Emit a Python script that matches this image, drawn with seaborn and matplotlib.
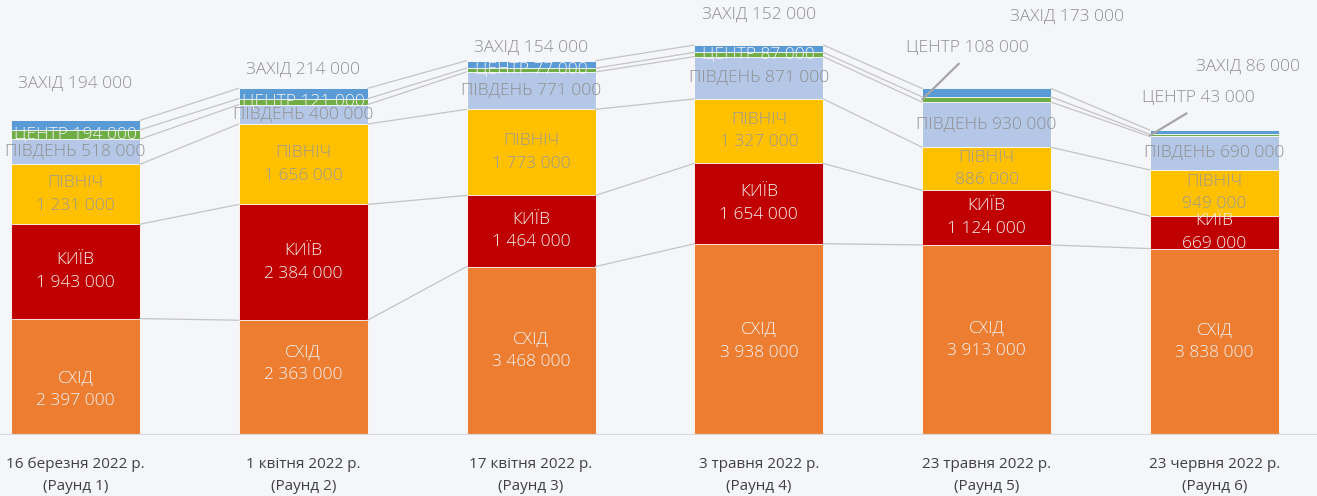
import seaborn as sns
import matplotlib.pyplot as plt
import numpy as np

# values in thousands
rounds = [
    "16 березня 2022 р.\n(Раунд 1)",
    "1 квітня 2022 р.\n(Раунд 2)",
    "17 квітня 2022 р.\n(Раунд 3)",
    "3 травня 2022 р.\n(Раунд 4)",
    "23 травня 2022 р.\n(Раунд 5)",
    "23 червня 2022 р.\n(Раунд 6)",
]
regions = ["СХІД", "КИЇВ", "ПІВНІЧ", "ПІВДЕНЬ", "ЦЕНТР", "ЗАХІД"]
east = [2397, 2363, 3468, 3938, 3913, 3838]
kyiv = [1943, 2384, 1464, 1654, 1124, 669]
north = [1231, 1656, 1773, 1327, 886, 949]
south = [518, 400, 771, 871, 930, 690]
center = [194, 121, 77, 87, 108, 43]
west = [194, 214, 154, 152, 173, 86]

colors = ["#ED7D31", "#C00000", "#FFC000", "#B4C7E7", "#70AD47", "#5B9BD5"]
text_colors = ["#F4F4F4", "#F4F4F4", "#999999", "#8f8f8f", "#F4F4F4", "#8f8f8f"]
bg = "#F5F6FA"

sns.set_theme(style="white")
plt.rcParams["font.family"] = ["Open Sans", "DejaVu Sans"]

data = np.array([east, kyiv, north, south, center, west])
cum = np.cumsum(data, axis=0)

fig = plt.figure(figsize=(13.17, 4.96), dpi=100, facecolor=bg)
ax = fig.add_axes([0, 61 / 496, 1, 435 / 496])
ax.set_facecolor(bg)

w = 0.566
# draw from top layer down so lower layers cover upper ones
for k in range(len(regions) - 1, -1, -1):
    sns.barplot(x=list(range(6)), y=cum[k], color=colors[k], width=w,
                saturation=1, edgecolor="white", linewidth=0.6, ax=ax,
                order=list(range(6)))

# series lines between bars
for k in range(len(regions)):
    for i in range(5):
        ax.plot([i + w / 2, i + 1 - w / 2], [cum[k][i], cum[k][i + 1]],
                color="#C4C4C4", lw=0.9, zorder=1)

ax.axhline(0, color="#D9D9D9", lw=1.6, zorder=3)

ax.set_xlim(-0.331, 5.45)
ax.set_ylim(0, 8956)


def fmt(v):
    return f"{v * 1000:,}".replace(",", " ")


lab_font = dict(family=["Open Sans", "DejaVu Sans"], fontsize=12.5, fontweight="light")
east_shift = [-13, 14, 0, -2, 0, 0]  # pixel shifts for east labels

for i in range(6):
    for k in range(4):
        mid = cum[k][i] - data[k][i] / 2
        if k == 3:
            txt = f"{regions[k]} {fmt(data[k][i])}"
        else:
            txt = f"{regions[k]}\n{fmt(data[k][i])}"
        dy = east_shift[i] if k == 0 else 0
        ax.annotate(txt, (i, mid), xytext=(0, dy), textcoords="offset pixels",
                    ha="center", va="center", color=text_colors[k],
                    linespacing=1.55, zorder=5, **lab_font)

# ЦЕНТР labels inside for first four rounds
for i in range(4):
    mid = cum[4][i] - data[4][i] / 2
    ax.annotate(f"ЦЕНТР {fmt(center[i])}", (i, mid), ha="center", va="center",
                color=text_colors[4], zorder=5, **lab_font)

# ЦЕНТР labels with leader lines for rounds 5 and 6
center_off = {4: (45, 44), 5: (48, 29)}
for i, (dx, dy) in center_off.items():
    ax.annotate(f"ЦЕНТР {fmt(center[i])}", (i - w / 2, cum[4][i] - data[4][i] / 2),
                xytext=(dx, dy), textcoords="offset pixels", ha="center", va="bottom",
                color="#8f8f8f", zorder=5,
                arrowprops=dict(arrowstyle="-", color="#A6A6A6", lw=1.6,
                                relpos=(0.5, 0), shrinkA=5, shrinkB=0),
                **lab_font)

# ЗАХІД labels above bars
west_off = [(0, 37), (0, 19), (0, 13), (0, 30), (80, 72), (34, 63)]
for i in range(6):
    dx, dy = west_off[i]
    ax.annotate(f"ЗАХІД {fmt(west[i])}", (i, cum[5][i]), xytext=(dx, dy),
                textcoords="offset pixels", ha="center", va="center",
                color="#8f8f8f", zorder=5, **lab_font)

ax.set_xticks(range(6))
ax.set_xticklabels(rounds, fontsize=11, color="#404040", linespacing=1.6)
ax.tick_params(axis="x", length=0, pad=16)
ax.set_yticks([])
ax.set_xlabel("")
ax.set_ylabel("")
for s in ax.spines.values():
    s.set_visible(False)

fig.savefig("out.png", dpi=100, facecolor=bg)
